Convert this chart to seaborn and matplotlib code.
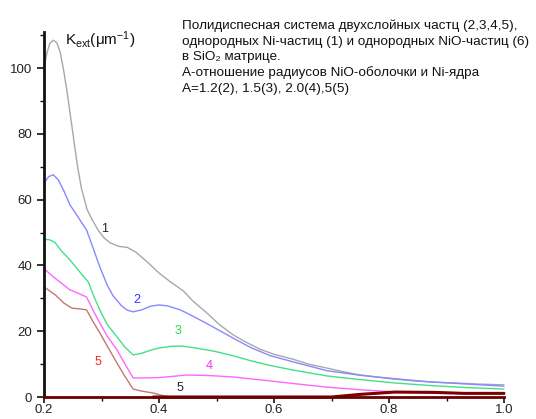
import numpy as np
import pandas as pd
import matplotlib
matplotlib.use("Agg")
import matplotlib.pyplot as plt
import seaborn as sns

# ---- data ----
x1 = [0.20, 0.205, 0.21, 0.216, 0.222, 0.228, 0.234, 0.24, 0.246, 0.252, 0.258, 0.265, 0.275, 0.285,
      0.295, 0.305, 0.315, 0.33, 0.345, 0.36, 0.38, 0.40, 0.42, 0.442, 0.46, 0.483, 0.505, 0.529,
      0.55, 0.576, 0.60, 0.633, 0.66, 0.692, 0.72, 0.75, 0.80, 0.837, 0.88, 0.923, 0.96, 1.0]
y1 = [100, 104.5, 107.5, 108.5, 107.8, 105, 99.5, 93, 85.5, 78, 70.5, 63.5, 57, 53.5,
      50.5, 48.3, 46.9, 45.8, 45.5, 44, 41, 37.7, 35, 32.3, 29, 25.6, 22, 18.9,
      16.8, 14.5, 13, 11.5, 10, 8.8, 7.7, 6.7, 5.6, 5.0, 4.5, 4.2, 3.9, 3.7]

x2 = [0.20, 0.208, 0.216, 0.225, 0.235, 0.245, 0.26, 0.274, 0.285, 0.297, 0.31, 0.32, 0.335, 0.345,
      0.355, 0.37, 0.385, 0.40, 0.415, 0.437, 0.46, 0.494, 0.53, 0.56, 0.593, 0.633, 0.692, 0.75,
      0.808, 0.87, 0.93, 1.0]
y2 = [65, 67, 67.6, 66, 62.5, 58.5, 54.5, 50.8, 45.5, 39.6, 34, 30.8, 27.7, 26.4,
      25.9, 26.5, 27.6, 28, 27.7, 26.5, 24.5, 21.3, 17.8, 15, 12.6, 10.7, 8.0, 6.6,
      5.6, 4.6, 4.0, 3.3]

x3 = [0.20, 0.21, 0.219, 0.23, 0.245, 0.26, 0.277, 0.287, 0.297, 0.31, 0.327, 0.34, 0.355, 0.37,
      0.385, 0.40, 0.42, 0.44, 0.46, 0.494, 0.53, 0.56, 0.593, 0.633, 0.692, 0.75, 0.808, 0.87,
      0.93, 1.0]
y3 = [48, 47.8, 47, 44.5, 41.7, 38.5, 35, 30.5, 26.5, 22, 18.3, 15.3, 12.8, 13.3,
      14.2, 14.9, 15.4, 15.5, 15, 14, 12.5, 11, 9.6, 8.2, 6.4, 5.3, 4.3, 3.5,
      2.9, 2.4]

x4 = [0.20, 0.22, 0.245, 0.26, 0.274, 0.285, 0.297, 0.31, 0.327, 0.34, 0.355, 0.38, 0.40, 0.425,
      0.449, 0.49, 0.529, 0.56, 0.593, 0.633, 0.692, 0.75, 0.808, 0.87, 0.93, 1.0]
y4 = [39, 36, 32.6, 31.5, 30.4, 26.5, 22.5, 18.5, 14.3, 10.3, 5.8, 5.8, 5.9, 6.3,
      6.7, 6.5, 6.1, 5.5, 4.9, 4.1, 3.0, 2.2, 1.6, 1.3, 1.2, 1.2]

x5 = [0.20, 0.22, 0.235, 0.249, 0.262, 0.274, 0.285, 0.297, 0.31, 0.327, 0.34, 0.355, 0.37, 0.39,
      0.407, 0.42]
y5 = [33.5, 31, 28.5, 27, 26.8, 26.5, 23, 19.5, 15.5, 10.3, 6.5, 2.4, 1.8, 1.2,
      0.4, 0.0]

x6 = [0.39, 0.70, 0.75, 0.81, 0.88, 0.93, 1.0]
y6 = [0.0, 0.0, 0.8, 1.5, 1.4, 1.1, 1.1]

curve_colors = ["#a8a8a8", "#8888ff", "#44e088", "#ff66ff", "#c07a70", "#800000"]

label_texts = ["1", "2", "3", "4", "5", "5"]
label_x = [0.306, 0.362, 0.433, 0.487, 0.437, 0.294]
label_y = [51, 29.5, 20, 9.4, 2.7, 10.6]
label_colors = ["#222222", "#3333ff", "#22dd55", "#ee33ee", "#222222", "#ff2222"]

x_ticks = [0.2, 0.4, 0.6, 0.8, 1.0]
y_ticks = [0, 20, 40, 60, 80, 100]

annotation = ("Полидиспесная система двухслойных частц (2,3,4,5),\n"
              "однородных Ni-частиц (1) и однородных NiO-частиц (6)\n"
              "в SiO₂ матрице.\n"
              "А-отношение радиусов NiO-оболочки и Ni-ядра\n"
              "А=1.2(2), 1.5(3), 2.0(4),5(5)")

# ---- plotting ----
sns.set_style("ticks")
plt.rcParams["font.family"] = ["Liberation Sans", "DejaVu Sans"]
plt.rcParams["mathtext.fontset"] = "custom"
plt.rcParams["mathtext.rm"] = "Liberation Sans"
plt.rcParams["mathtext.it"] = "Liberation Sans"

fig = plt.figure(figsize=(5.36, 4.19), dpi=100)
ax = fig.add_axes([44 / 536, 22 / 419, 460 / 536, 365 / 419])

series = [(x1, y1), (x2, y2), (x3, y3), (x4, y4), (x5, y5)]
for (xs, ys), c in zip(series, curve_colors[:5]):
    df = pd.DataFrame({"x": xs, "y": ys})
    sns.lineplot(data=df, x="x", y="y", ax=ax, color=c, lw=1.0, sort=False)

df6 = pd.DataFrame({"x": x6, "y": y6})
sns.lineplot(data=df6, x="x", y="y", ax=ax, color=curve_colors[5], lw=2.2, sort=False)
for ln in ax.lines:
    ln.set_clip_on(False)
    ln.set_solid_joinstyle("round")

for t, lx, ly, lc in zip(label_texts, label_x, label_y, label_colors):
    ax.text(lx, ly, t, color=lc, fontsize=9, ha="center", va="center")

ax.set_xlim(0.2, 1.0)
ax.set_ylim(0, 111)
ax.set_xticks(x_ticks)
ax.set_xticklabels([f"{v:.1f}" for v in x_ticks])
ax.set_yticks(y_ticks)
ax.set_xticks([0.3, 0.5, 0.7, 0.9], minor=True)
ax.set_yticks([10, 30, 50, 70, 90, 110], minor=True)
ax.set_xlabel("")
ax.set_ylabel("")

for s in ["top", "right"]:
    ax.spines[s].set_visible(False)
ax.spines["left"].set_linewidth(2.0)
ax.spines["left"].set_color("#111111")
ax.spines["bottom"].set_linewidth(2.0)
ax.spines["bottom"].set_color("#6a0000")
ax.tick_params(axis="both", which="major", length=5, width=1.2, labelsize=9.5,
               color="#111111", labelcolor="#222222", direction="out")
ax.tick_params(axis="x", which="major", length=4, pad=1)
ax.tick_params(axis="both", which="minor", length=3, width=1.0, color="#111111",
               direction="out")

ax.text(0.237, 108.5, r"K$_{\mathrm{ext}}$($\mu$m$^{\mathrm{-1}}$)", fontsize=11,
        ha="left", va="center", color="#111111")

fig.text(182 / 536, 1 - 20 / 419, annotation, fontsize=9.7, ha="left", va="top",
         linespacing=1.36, color="#111111")

fig.savefig("out.png", dpi=100)
